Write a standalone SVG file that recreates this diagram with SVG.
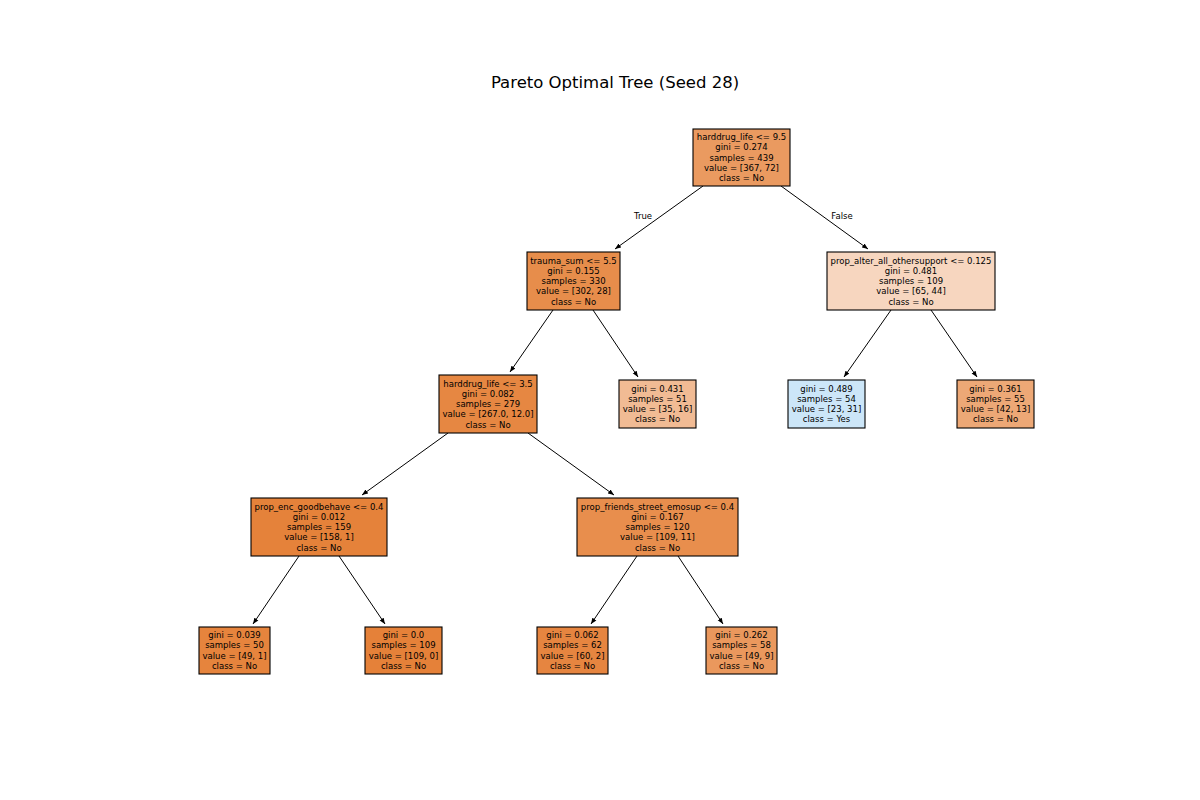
<svg xmlns="http://www.w3.org/2000/svg" width="1200" height="800" viewBox="0 0 1200 800">
  <style>
    .box { stroke: #000; stroke-width: 1.1; }
    .lbl { font-family: "DejaVu Sans", sans-serif; font-size: 8.5px; fill: #000; text-anchor: middle; dominant-baseline: central; }
    .edge { stroke: #000; stroke-width: 1; fill: none; marker-end: url(#arrow); }
    .title { font-family: "DejaVu Sans", sans-serif; font-size: 16.5px; fill: #000; text-anchor: middle; }
  </style>
  <defs>
    <marker id="arrow" viewBox="0 0 10 10" refX="10" refY="5" markerWidth="6" markerHeight="6" markerUnits="userSpaceOnUse" orient="auto">
      <path d="M0,1 L10,5 L0,9 z" fill="#000"/>
    </marker>
  </defs>
  <rect width="1200" height="800" fill="#fff"/>
  <text class="title" x="615" y="88">Pareto Optimal Tree (Seed 28)</text>

  <g id="connectors">
    <line class="edge" x1="703" y1="186" x2="615" y2="249"/>
    <line class="edge" x1="781" y1="186" x2="868" y2="249"/>
    <line class="edge" x1="553" y1="310" x2="510" y2="372"/>
    <line class="edge" x1="593" y1="310" x2="638" y2="377"/>
    <line class="edge" x1="891" y1="310" x2="844" y2="377"/>
    <line class="edge" x1="931" y1="310" x2="977" y2="377"/>
    <line class="edge" x1="448" y1="433" x2="362" y2="495"/>
    <line class="edge" x1="528" y1="433" x2="614" y2="495"/>
    <line class="edge" x1="299" y1="556" x2="253" y2="624"/>
    <line class="edge" x1="339" y1="556" x2="385" y2="624"/>
    <line class="edge" x1="637" y1="556" x2="591" y2="624"/>
    <line class="edge" x1="678" y1="556" x2="723" y2="624"/>
    <text class="lbl" x="643" y="216">True</text>
    <text class="lbl" x="842" y="216">False</text>
  </g>

  <g id="node0">
    <rect class="box" x="693" y="129" width="97" height="57" fill="#ea9a60"/>
    <text class="lbl" x="741.5" y="137">harddrug_life &lt;= 9.5</text>
    <text class="lbl" x="741.5" y="147.3">gini = 0.274</text>
    <text class="lbl" x="741.5" y="157.5">samples = 439</text>
    <text class="lbl" x="741.5" y="167.8">value = [367, 72]</text>
    <text class="lbl" x="741.5" y="178">class = No</text>
  </g>

  <g id="node1">
    <rect class="box" x="527" y="252" width="93" height="58" fill="#e78d4b"/>
    <text class="lbl" x="573.5" y="260.5">trauma_sum &lt;= 5.5</text>
    <text class="lbl" x="573.5" y="270.8">gini = 0.155</text>
    <text class="lbl" x="573.5" y="281">samples = 330</text>
    <text class="lbl" x="573.5" y="291.3">value = [302, 28]</text>
    <text class="lbl" x="573.5" y="301.5">class = No</text>
  </g>

  <g id="node2">
    <rect class="box" x="827" y="252" width="168" height="58" fill="#f7d6bf"/>
    <text class="lbl" x="911" y="260.5">prop_alter_all_othersupport &lt;= 0.125</text>
    <text class="lbl" x="911" y="270.8">gini = 0.481</text>
    <text class="lbl" x="911" y="281">samples = 109</text>
    <text class="lbl" x="911" y="291.3">value = [65, 44]</text>
    <text class="lbl" x="911" y="301.5">class = No</text>
  </g>

  <g id="node3">
    <rect class="box" x="439" y="375" width="98" height="58" fill="#e68742"/>
    <text class="lbl" x="488" y="383.5">harddrug_life &lt;= 3.5</text>
    <text class="lbl" x="488" y="393.8">gini = 0.082</text>
    <text class="lbl" x="488" y="404">samples = 279</text>
    <text class="lbl" x="488" y="414.3">value = [267.0, 12.0]</text>
    <text class="lbl" x="488" y="424.5">class = No</text>
  </g>

  <g id="node4">
    <rect class="box" x="619" y="380" width="77" height="48" fill="#f1bb94"/>
    <text class="lbl" x="657.5" y="388.6">gini = 0.431</text>
    <text class="lbl" x="657.5" y="398.9">samples = 51</text>
    <text class="lbl" x="657.5" y="409.1">value = [35, 16]</text>
    <text class="lbl" x="657.5" y="419.4">class = No</text>
  </g>

  <g id="node5">
    <rect class="box" x="788" y="380" width="77" height="48" fill="#cce6f8"/>
    <text class="lbl" x="826.5" y="388.6">gini = 0.489</text>
    <text class="lbl" x="826.5" y="398.9">samples = 54</text>
    <text class="lbl" x="826.5" y="409.1">value = [23, 31]</text>
    <text class="lbl" x="826.5" y="419.4">class = Yes</text>
  </g>

  <g id="node6">
    <rect class="box" x="957" y="380" width="77" height="48" fill="#eda876"/>
    <text class="lbl" x="995.5" y="388.6">gini = 0.361</text>
    <text class="lbl" x="995.5" y="398.9">samples = 55</text>
    <text class="lbl" x="995.5" y="409.1">value = [42, 13]</text>
    <text class="lbl" x="995.5" y="419.4">class = No</text>
  </g>

  <g id="node7">
    <rect class="box" x="251" y="498" width="136" height="58" fill="#e5823a"/>
    <text class="lbl" x="319" y="506.5">prop_enc_goodbehave &lt;= 0.4</text>
    <text class="lbl" x="319" y="516.8">gini = 0.012</text>
    <text class="lbl" x="319" y="527">samples = 159</text>
    <text class="lbl" x="319" y="537.3">value = [158, 1]</text>
    <text class="lbl" x="319" y="547.5">class = No</text>
  </g>

  <g id="node8">
    <rect class="box" x="577" y="498" width="161" height="58" fill="#e88e4d"/>
    <text class="lbl" x="657.5" y="506.5">prop_friends_street_emosup &lt;= 0.4</text>
    <text class="lbl" x="657.5" y="516.8">gini = 0.167</text>
    <text class="lbl" x="657.5" y="527">samples = 120</text>
    <text class="lbl" x="657.5" y="537.3">value = [109, 11]</text>
    <text class="lbl" x="657.5" y="547.5">class = No</text>
  </g>

  <g id="node9">
    <rect class="box" x="199" y="627" width="71" height="47" fill="#e6843d"/>
    <text class="lbl" x="234.5" y="635.1">gini = 0.039</text>
    <text class="lbl" x="234.5" y="645.4">samples = 50</text>
    <text class="lbl" x="234.5" y="655.6">value = [49, 1]</text>
    <text class="lbl" x="234.5" y="665.9">class = No</text>
  </g>

  <g id="node10">
    <rect class="box" x="365" y="627" width="77" height="47" fill="#e58139"/>
    <text class="lbl" x="403.5" y="635.1">gini = 0.0</text>
    <text class="lbl" x="403.5" y="645.4">samples = 109</text>
    <text class="lbl" x="403.5" y="655.6">value = [109, 0]</text>
    <text class="lbl" x="403.5" y="665.9">class = No</text>
  </g>

  <g id="node11">
    <rect class="box" x="537" y="627" width="71" height="47" fill="#e68540"/>
    <text class="lbl" x="572.5" y="635.1">gini = 0.062</text>
    <text class="lbl" x="572.5" y="645.4">samples = 62</text>
    <text class="lbl" x="572.5" y="655.6">value = [60, 2]</text>
    <text class="lbl" x="572.5" y="665.9">class = No</text>
  </g>

  <g id="node12">
    <rect class="box" x="706" y="627" width="71" height="47" fill="#ea985d"/>
    <text class="lbl" x="741.5" y="635.1">gini = 0.262</text>
    <text class="lbl" x="741.5" y="645.4">samples = 58</text>
    <text class="lbl" x="741.5" y="655.6">value = [49, 9]</text>
    <text class="lbl" x="741.5" y="665.9">class = No</text>
  </g>
</svg>
